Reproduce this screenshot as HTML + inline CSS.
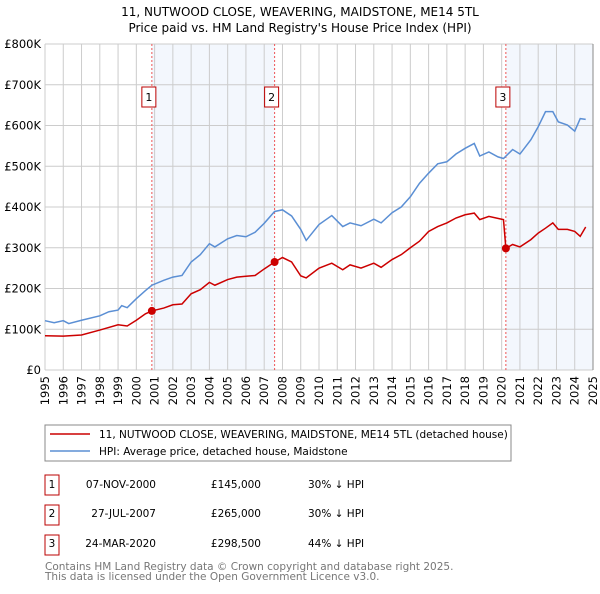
<!DOCTYPE html>
<html><head><meta charset="utf-8"><style>
body{margin:0;background:#fff;width:600px;height:590px;overflow:hidden;font-family:"DejaVu Sans","Liberation Sans",sans-serif}
svg text{font-family:"DejaVu Sans","Liberation Sans",sans-serif}
</style></head><body>
<svg id="chart" width="600" height="590">
<text x="300" y="16" text-anchor="middle" font-size="12">11, NUTWOOD CLOSE, WEAVERING, MAIDSTONE, ME14 5TL</text>
<text x="300" y="32" text-anchor="middle" font-size="12">Price paid vs. HM Land Registry's House Price Index (HPI)</text>
<g id="plot"></g>
<g>
<rect x="45" y="425" width="466" height="36" fill="#fff" stroke="#888"/>
<line x1="50" y1="434" x2="90" y2="434" stroke="#cc0000" stroke-width="1.5"/>
<text x="99" y="438" font-size="10.5">11, NUTWOOD CLOSE, WEAVERING, MAIDSTONE, ME14 5TL (detached house)</text>
<line x1="50" y1="451" x2="90" y2="451" stroke="#5b8fd4" stroke-width="1.5"/>
<text x="99" y="455" font-size="10.5">HPI: Average price, detached house, Maidstone</text>
</g>
<g font-size="10.5">
<rect x="45" y="475" width="14" height="20" fill="none" stroke="#b00"/><text x="52" y="488" text-anchor="middle">1</text>
<text x="156" y="488" text-anchor="end">07-NOV-2000</text>
<text x="261" y="488" text-anchor="end">£145,000</text>
<text x="308" y="488">30% ↓ HPI</text>
<rect x="45" y="505" width="14" height="20" fill="none" stroke="#b00"/><text x="52" y="517" text-anchor="middle">2</text>
<text x="156" y="517" text-anchor="end">27-JUL-2007</text>
<text x="261" y="517" text-anchor="end">£265,000</text>
<text x="308" y="517">30% ↓ HPI</text>
<rect x="45" y="535" width="14" height="20" fill="none" stroke="#b00"/><text x="52" y="547" text-anchor="middle">3</text>
<text x="156" y="547" text-anchor="end">24-MAR-2020</text>
<text x="261" y="547" text-anchor="end">£298,500</text>
<text x="308" y="547">44% ↓ HPI</text>
</g>
<text x="45" y="570" font-size="10.5" fill="#777">Contains HM Land Registry data © Crown copyright and database right 2025.</text>
<text x="45" y="580" font-size="10.5" fill="#777">This data is licensed under the Open Government Licence v3.0.</text>
</svg>
<script>
const yTicks=[0,100,200,300,400,500,600,700,800];
const yTickLabels=["£0","£100K","£200K","£300K","£400K","£500K","£600K","£700K","£800K"];
const xYears=[1995,1996,1997,1998,1999,2000,2001,2002,2003,2004,2005,2006,2007,2008,2009,2010,2011,2012,2013,2014,2015,2016,2017,2018,2019,2020,2021,2022,2023,2024,2025];
const hpiT=[1995,1995.5,1996,1996.3,1997,1998,1998.5,1999,1999.2,1999.5,2000,2000.5,2000.85,2001.5,2002,2002.5,2003,2003.5,2004,2004.3,2005,2005.5,2006,2006.5,2007,2007.57,2008,2008.5,2009,2009.3,2010,2010.7,2011.3,2011.7,2012.3,2013,2013.4,2014,2014.5,2015,2015.5,2016,2016.5,2017,2017.5,2018,2018.5,2018.8,2019.3,2019.8,2020.1,2020.6,2021,2021.6,2022,2022.4,2022.8,2023.1,2023.6,2024,2024.3,2024.6];
const hpiV=[121,116,121,114,122,133,143,147,158,153,175,195,208,220,228,232,265,283,310,302,322,330,327,338,360,389,393,378,345,318,357,379,352,361,354,370,361,386,400,425,458,483,506,511,530,544,556,525,535,523,519,541,530,565,597,634,634,609,601,586,617,615];
const ppT=[1995,1996,1997,1998,1999,1999.5,2000,2000.5,2000.85,2001.5,2002,2002.5,2003,2003.5,2004,2004.3,2005,2005.5,2006,2006.5,2007,2007.57,2008,2008.5,2009,2009.3,2010,2010.7,2011.3,2011.7,2012.3,2013,2013.4,2014,2014.5,2015,2015.5,2016,2016.5,2017,2017.5,2018,2018.5,2018.8,2019.3,2020.1,2020.23,2020.6,2021,2021.6,2022,2022.4,2022.8,2023.1,2023.6,2024,2024.3,2024.6];
const ppV=[84,83,86,98,111,108,122,138,145,152,160,162,187,197,215,208,222,228,230,232,248,265,276,265,231,226,250,262,246,258,250,262,252,271,283,300,316,340,352,361,373,381,385,369,377,369,298.5,308,302,320,336,348,361,345,345,340,328,351];
const saleT=[2000.85,2007.57,2020.23];
const saleV=[145,265,298.5];
const saleLabels=["1","2","3"];
const X0=45,X1=593,Y0=370,Y1=44;
const xs=t=>X0+(t-1995)/30*(X1-X0);
const ys=v=>Y0-v/800*(Y0-Y1);
const NS="http://www.w3.org/2000/svg";
const g=document.getElementById('plot');
function mk(tag,attrs){const e=document.createElementNS(NS,tag);for(const k in attrs)e.setAttribute(k,attrs[k]);g.appendChild(e);return e;}
let r=mk('rect',{x:xs(saleT[0]),y:Y1,width:xs(saleT[1])-xs(saleT[0]),height:Y0-Y1,fill:'#eef3fc',opacity:0.7});


r=mk('rect',{x:xs(saleT[2]),y:Y1,width:X1-xs(saleT[2]),height:Y0-Y1,fill:'#eef3fc',opacity:0.7});


yTicks.forEach((v,i)=>{
 const l=mk('line',{x1:X0,x2:X1,y1:ys(v),y2:ys(v),stroke:'#ccc'});
 
 
 const t=mk('text',{x:X0-4,y:ys(v)+4,'text-anchor':'end','font-size':'11.5'});t.textContent=yTickLabels[i];
 
 
});
xYears.forEach(y=>{
 const l=mk('line',{x1:xs(y),x2:xs(y),y1:Y1,y2:Y0,stroke:'#ccc'});
 
 
 const t=mk('text',{x:0,y:0,'font-size':'11.5','text-anchor':'end',transform:`translate(${xs(y)+4},${Y0+6}) rotate(-90)`});t.textContent=y;
 
 
});
saleT.forEach((t,i)=>{
 const l=mk('line',{x1:xs(t),x2:xs(t),y1:Y1,y2:Y0,stroke:'#e55','stroke-dasharray':'2,2'});
 
 
 const b=mk('rect',{x:xs(t)-10,y:87,width:14,height:20,fill:'#fff',stroke:'#b00'});
 
 
 const tx=mk('text',{x:xs(t)-3,y:101,'text-anchor':'middle','font-size':'11'});tx.textContent=saleLabels[i];
 
 
});
const hp=mk('polyline',{points:hpiT.map((t,i)=>xs(t)+','+ys(hpiV[i])).join(' '),fill:'none',stroke:'#5b8fd4','stroke-width':1.5});


const pp=mk('polyline',{points:ppT.map((t,i)=>xs(t)+','+ys(ppV[i])).join(' '),fill:'none',stroke:'#cc0000','stroke-width':1.5});


saleT.forEach((t,i)=>{
 const c=mk('circle',{cx:xs(t),cy:ys(saleV[i]),r:4,fill:'#cc0000'});
 
 
});
const ax=mk('line',{x1:X1,x2:X1,y1:Y1,y2:Y0,stroke:'#888'});


</script>
</body></html>
